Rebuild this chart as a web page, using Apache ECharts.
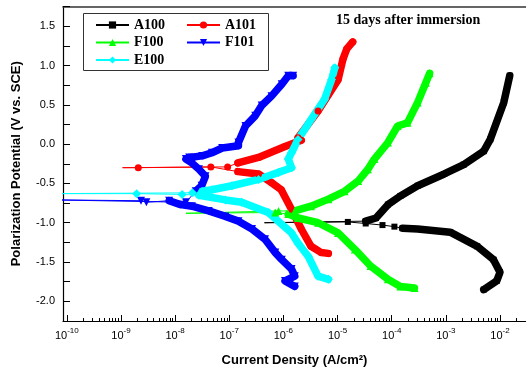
<!DOCTYPE html>
<html>
<head>
<meta charset="utf-8">
<script src="https://cdn.jsdelivr.net/npm/echarts@6/dist/echarts.min.js"></script>
<style>
html, body { margin: 0; padding: 0; background: #fff; }
#main { width: 526px; height: 372px; }
</style>
</head>
<body>
<div id="main"></div>
<script>
// points are [log10 of current density (A/cm2), potential (V vs. SCE)]
// cathodic branch (dense), sparse points around Ecorr, anodic branch (dense)
var a100Cath = [[-2.30,-1.85],[-2.06,-1.74],[-2.00,-1.63],[-2.12,-1.47],[-2.42,-1.30],[-2.92,-1.12],[-3.52,-1.08],[-3.80,-1.07]];
var a100Mid = [[-3.95,-1.05],[-4.17,-1.03],[-4.48,-1.01],[-4.81,-0.99],[-6.35,-1.00]];
var a100Anod = [[-4.48,-0.98],[-4.29,-0.94],[-4.07,-0.77],[-3.84,-0.66],[-3.52,-0.53],[-3.03,-0.38],[-2.67,-0.26],[-2.30,-0.09],[-2.18,0.06],[-1.93,0.53],[-1.82,0.87]];

var a101Cath = [[-5.17,-1.39],[-5.30,-1.38],[-5.49,-1.30],[-5.67,-1.08],[-5.85,-0.83],[-6.04,-0.58],[-6.22,-0.49],[-6.46,-0.38],[-6.84,-0.35]];
var a101Mid = [[-7.34,-0.29],[-8.68,-0.30],[-8.97,-0.30],[-7.03,-0.29]];
var a101Anod = [[-6.84,-0.24],[-6.46,-0.17],[-5.97,-0.03],[-5.67,0.05],[-5.73,0.08],[-5.36,0.42],[-4.99,0.82],[-4.90,1.08],[-4.83,1.21],[-4.72,1.30]];

var f100Cath = [[-3.58,-1.83],[-3.84,-1.81],[-4.07,-1.72],[-4.39,-1.55],[-4.68,-1.34],[-4.99,-1.13],[-5.36,-1.00],[-5.73,-0.94],[-5.91,-0.89]];
var f100Mid = [[-6.15,-0.87],[-7.80,-0.88],[-6.09,-0.85]];
var f100Anod = [[-5.79,-0.85],[-5.49,-0.79],[-5.17,-0.70],[-4.87,-0.60],[-4.62,-0.47],[-4.44,-0.32],[-4.32,-0.19],[-4.07,0.02],[-3.89,0.23],[-3.71,0.27],[-3.52,0.53],[-3.37,0.78],[-3.30,0.90]];

var f101Cath = [[-5.79,-1.81],[-5.97,-1.74],[-5.79,-1.68],[-5.85,-1.59],[-6.03,-1.47],[-6.15,-1.38],[-6.34,-1.21],[-6.58,-1.08],[-6.83,-0.98],[-7.07,-0.92],[-7.38,-0.85],[-7.69,-0.79],[-7.90,-0.77],[-8.11,-0.72]];
var f101Mid = [[-8.53,-0.74],[-8.63,-0.72],[-10.22,-0.71],[-7.80,-0.74]];
var f101Anod = [[-7.62,-0.60],[-7.51,-0.53],[-7.44,-0.41],[-7.56,-0.32],[-7.69,-0.24],[-7.80,-0.19],[-7.74,-0.17],[-7.50,-0.15],[-7.32,-0.11],[-7.13,-0.05],[-6.83,-0.02],[-6.83,0.02],[-6.70,0.23],[-6.52,0.36],[-6.40,0.49],[-6.22,0.61],[-6.03,0.76],[-5.91,0.87],[-5.82,0.87]];

var e100Cath = [[-5.17,-1.72],[-5.36,-1.68],[-5.54,-1.43],[-5.73,-1.26],[-5.85,-1.13],[-6.28,-0.87],[-6.77,-0.74],[-7.07,-0.71],[-7.56,-0.65]];
var e100Mid = [[-7.87,-0.64],[-8.71,-0.63],[-10.22,-0.63],[-7.68,-0.62]];
var e100Anod = [[-7.50,-0.60],[-7.32,-0.58],[-6.95,-0.53],[-6.46,-0.45],[-6.09,-0.36],[-5.85,-0.30],[-5.91,-0.19],[-5.85,-0.11],[-5.73,0.06],[-5.48,0.32],[-5.24,0.57],[-5.11,0.82],[-5.05,0.97]];

var xDecades = [-10, -9, -8, -7, -6, -5, -4, -3, -2];
var yLabels = [-2.0, -1.5, -1.0, -0.5, 0.0, 0.5, 1.0, 1.5];
var yTicks = [-2.0, -1.75, -1.5, -1.25, -1.0, -0.75, -0.5, -0.25, 0.0, 0.25, 0.5, 0.75, 1.0, 1.25, 1.5, 1.75];

var xMinor = [];
for (var d = 0; d < xDecades.length; d++) {
    for (var k = 2; k <= 9; k++) {
        xMinor.push(xDecades[d] + Math.log10(k));
    }
}

var sans = 'Liberation Sans';
var serif = 'Liberation Serif';

function curve(name, color, symbol, rotate, size, cath, mid, anod) {
    var band = {
        type: 'line',
        data: null,
        symbol: 'none',
        lineStyle: { color: color, width: 7.5, cap: 'round', join: 'round' },
        silent: true
    };
    // the lowest-current point near Ecorr carries no marker in the original
    var lowest = 0;
    for (var i = 1; i < mid.length; i++) {
        if (mid[i][0] < mid[lowest][0]) lowest = i;
    }
    var midData = mid.map(function (p, i) {
        return i === lowest ? { value: p, symbol: 'none' } : p;
    });
    return [
        Object.assign({}, band, { data: cath }),
        Object.assign({}, band, { data: anod }),
        {
            name: name,
            type: 'line',
            data: cath.concat(midData, anod),
            symbol: symbol,
            symbolRotate: rotate,
            symbolSize: size,
            itemStyle: { color: color },
            lineStyle: { color: color, width: 1 }
        }
    ];
}

var series = [].concat(
    curve('A100', '#000000', 'rect', 0, 6, a100Cath, a100Mid, a100Anod),
    curve('A101', '#ff0000', 'circle', 0, 7, a101Cath, a101Mid, a101Anod),
    curve('F100', '#00ff00', 'triangle', 0, 8, f100Cath, f100Mid, f100Anod),
    curve('F101', '#0000ff', 'triangle', 180, 8, f101Cath, f101Mid, f101Anod),
    curve('E100', '#00ffff', 'diamond', 0, 9, e100Cath, e100Mid, e100Anod)
);

var legendText = { fontFamily: serif, fontWeight: 'bold', fontSize: 14, color: '#000', lineHeight: 16 };

var myChart = echarts.init(document.getElementById('main'));
var option = {
    animation: false,
    backgroundColor: '#fff',
    title: {
        text: '15 days after immersion',
        left: 336,
        top: 13,
        padding: 0,
        textStyle: { fontFamily: serif, fontWeight: 'bold', fontSize: 14, color: '#000' }
    },
    legend: [
        {
            data: ['A100', 'F100', 'E100'],
            orient: 'vertical',
            left: 95, top: 17, padding: 0,
            itemWidth: 33, itemHeight: 9, itemGap: 1.5,
            textStyle: legendText
        },
        {
            data: ['A101', 'F101'],
            orient: 'vertical',
            left: 186, top: 17, padding: 0,
            itemWidth: 33, itemHeight: 9, itemGap: 1.5,
            textStyle: legendText
        }
    ],
    graphic: [{
        type: 'rect',
        shape: { x: 83.5, y: 13.5, width: 185, height: 57 },
        style: { fill: null, stroke: '#333', lineWidth: 1 },
        z: 10
    }],
    grid: { left: 63, right: -3, top: 6.5, bottom: 51 },
    xAxis: [
        {
            type: 'value',
            min: -10.07, max: -1.52,
            name: 'Current Density (A/cm²)',
            nameLocation: 'middle',
            nameGap: 33,
            nameTextStyle: { fontFamily: sans, fontWeight: 'bold', fontSize: 13, color: '#000' },
            splitLine: { show: false },
            axisLine: { onZero: false, lineStyle: { color: '#000', width: 1.2 } },
            axisTick: { inside: true, length: 6, customValues: xDecades, lineStyle: { color: '#000' } },
            axisLabel: {
                customValues: xDecades,
                margin: 6,
                formatter: function (v) { return '{b|10}{s|' + Math.round(v) + '}'; },
                rich: {
                    b: { fontFamily: sans, fontSize: 11, color: '#000', lineHeight: 14, verticalAlign: 'bottom' },
                    s: { fontFamily: sans, fontSize: 8, color: '#000', lineHeight: 7, verticalAlign: 'top' }
                }
            }
        },
        {
            type: 'value',
            min: -10.07, max: -1.52,
            position: 'bottom',
            splitLine: { show: false },
            axisLine: { show: false, onZero: false },
            axisTick: { inside: true, length: 3, customValues: xMinor, lineStyle: { color: '#000' } },
            axisLabel: { show: false }
        },
        {
            type: 'value',
            min: -10.07, max: -1.52,
            position: 'top',
            splitLine: { show: false },
            axisLine: { onZero: false, lineStyle: { color: '#333', width: 1.5 } },
            axisTick: { show: false },
            axisLabel: { show: false }
        }
    ],
    yAxis: {
        type: 'value',
        min: -2.25, max: 1.75,
        name: 'Polarization Potential (V vs. SCE)',
        nameLocation: 'middle',
        nameGap: 40,
        nameTextStyle: { fontFamily: sans, fontWeight: 'bold', fontSize: 13, color: '#000' },
        splitLine: { show: false },
        axisLine: { onZero: false, lineStyle: { color: '#000', width: 1.2 } },
        axisTick: { inside: true, length: 7, customValues: yTicks, lineStyle: { color: '#000' } },
        axisLabel: {
            customValues: yLabels,
            margin: 8,
            fontFamily: sans, fontSize: 11, color: '#000',
            formatter: function (v) { return v.toFixed(1); }
        }
    },
    series: series
};
myChart.setOption(option);
</script>
</body>
</html>
